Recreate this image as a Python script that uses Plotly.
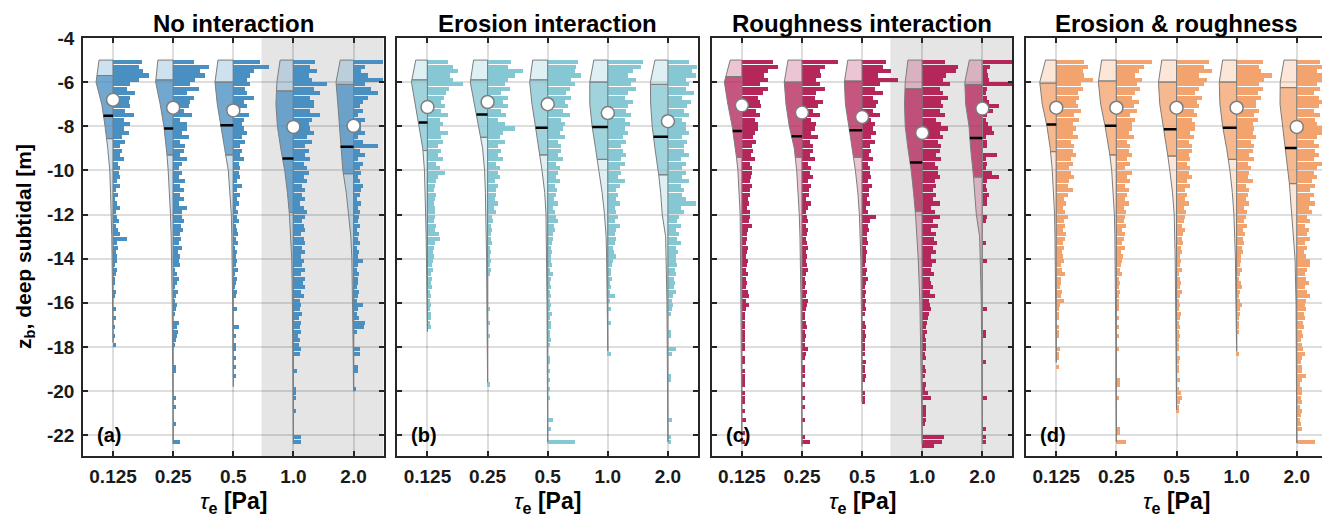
import numpy as np
import plotly.graph_objects as go

# ---------------- data ----------------
categories = ["0.125", "0.25", "0.5", "1.0", "2.0"]
panel_titles = ["No interaction", "Erosion interaction", "Roughness interaction", "Erosion & roughness"]
panel_labels = ["(a)", "(b)", "(c)", "(d)"]
y_ticks = [-22, -20, -18, -16, -14, -12, -10, -8, -6, -4]
shaded_from = [3, None, 3, None]          # index of first highlighted category (1.0 Pa)

# histogram bins: 0.2 m bins starting at -5 m going down
bin_top = -5.0
bin_width = 0.2
n_bins = 88

# violin half-width profile sampled at these depths
density_depths = [-5, -6, -7, -8, -9, -10, -11, -12, -13, -14, -16, -18, -20, -22]

# ---- (a) No interaction ----
hist_a = [
    [29,26,30,36,26, 17,14,22,17,16, 17,12,21,11,17, 11,16,9,12,7, 9,7,11,5,7, 6,7,4,7,3, 5,2,4,7,3,
     4,6,3,5,7, 14,4,5,3,4, 4,2,4,3,2, 2,0,3,2,0, 0,3,0,3,0, 2,0,2,0,3],
    [21,36,27,32,22, 17,26,14,21,17, 16,11,19,7,14, 14,9,16,7,12, 11,7,14,9,6, 9,6,12,7,11, 7,11,6,14,9,
     9,11,8,10,7, 8,6,9,5,7, 6,7,2,4,6, 4,2,5,3,2, 4,3,2,0,6, 4,5,4,3,2, 0,0,0,0,3, 3,0,0,0,0,
     0,3,0,3,0, 0,0,3,0,0, 0,7,0],
    [27,36,21,17,14, 17,12,14,21,11, 14,7,16,11,9, 11,14,9,12,7, 9,7,11,6,7, 6,7,4,9,4, 7,4,6,3,5,
     4,6,3,4,5, 3,5,2,4,3, 4,3,5,2,4, 3,2,4,3,0, 0,4,0,0,0, 6,0,3,0,3, 3,0,3,0,3, 0,3,0,0,0],
    [22,17,24,16,19, 34,21,27,17,21, 21,17,27,19,16, 17,21,14,19,12, 16,12,17,11,14, 16,11,14,9,12,
     9,12,7,11,14, 12,9,11,12,8, 11,12,9,12,8, 11,9,12,8,12, 10,12,8,11,7, 8,7,9,6,8, 7,8,5,7,6,
     8,7,0,0,0, 4,0,0,0,3, 3,3,0,0,3, 0,0,0,0,0, 8,8,0],
    [29,11,7,14,29, 11,17,24,14,9, 6,9,4,11,7, 7,11,4,9,24, 6,11,4,9,6, 7,4,6,9,7, 6,3,7,4,6,
     5,4,6,3,5, 4,6,3,5,4, 9,4,3,5,4, 4,3,5,4,3, 9,4,3,5,11, 10,3,0,0,0, 6,6,0,0,4, 4,0,0,0,2],
]
vio_a = [
    [14, 17, 11.3, 8, 5.3, 3.3, 2.5, 1.7, 1.3, 1, 0.6, 0, 0, 0],
    [15.3, 17.5, 13, 9.3, 6.7, 5, 3.7, 2.7, 2, 1.5, 1, 0.7, 0.5, 0.3],
    [15.3, 18.3, 16, 12.7, 8.7, 5, 3.3, 2, 1.5, 1, 0.7, 0.4, 0, 0],
    [13.3, 16.5, 17.5, 16, 12.7, 8.7, 6, 4, 2.7, 1.7, 1, 0.7, 0.5, 0.3],
    [13.3, 17.5, 15.7, 14, 13, 10.7, 7.3, 5, 2.7, 1.7, 0.7, 0.4, 0, 0],
]
zmin_a = [-17.8, -22.4, -19.8, -22.4, -20.0]
qup_a = [-5.7, -5.9, -6.0, -6.4, -6.1]
qlo_a = [-8.56, -9.3, -9.3, -11.9, -10.15]
median_a = [-7.52, -8.1, -7.95, -9.46, -8.93]
mean_a = [-6.8, -7.16, -7.28, -8.03, -7.98]

# ---- (b) Erosion interaction ----
hist_b = [
    [21,26,31,23,26, 36,22,19,17,14, 18,14,21,13,16, 13,21,14,16,11, 14,11,16,9,13, 18,11,9,8,7,
     9,8,7,8,8, 8,7,9,8,12, 13,8,7,6,7, 6,5,6,4,5, 4,5,3,4,3, 4,3,4,4,3, 4],
    [24,21,36,28,21, 18,23,14,21,16, 21,14,19,11,18, 28,16,13,18,11, 14,11,16,9,13, 11,13,8,11,9,
     9,8,11,7,9, 5,6,4,5,4, 4,5,3,4,3, 4,3,4,3,0, 0,0,0,0,0, 0,3,0,0,3, 0,0,3,0,0, 0,0,0,0,0,
     0,0,0,3,0],
    [31,29,28,34,24, 28,23,19,24,18, 21,16,23,14,18, 16,13,18,11,14, 14,11,16,9,13, 11,9,13,8,10,
     9,7,11,6,8, 9,11,7,8,6, 6,5,4,5,4, 4,5,3,6,4, 3,4,3,4,3, 4,3,5,3,4, 4,3,3,4,3, 0,0,3,3,0,
     3,0,3,0,3, 0,3,0,0,0, 0,6,0,4,0, 0,28,0],
    [36,34,26,21,29, 24,29,21,18,26, 21,19,24,18,23, 18,21,16,19,14, 16,19,14,18,13, 14,11,18,13,9,
     11,9,13,8,9, 11,8,13,9,8, 9,8,6,7,9, 6,5,4,4,5, 3,4,3,8,3, 0,4,0,0,4, 0,0,0,0,0, 0,4],
    [21,29,24,28,18, 21,18,26,14,23, 19,16,21,14,18, 18,21,14,19,16, 16,21,13,18,14, 18,14,21,13,16,
     14,18,28,13,16, 11,9,13,8,11, 9,13,8,10,8, 8,9,7,8,6, 7,6,8,5,4, 5,4,3,0,0, 0,3,3,0,0,
     8,4,0,0,0, 0,3,3,0,0, 0,0,0,0,0, 0,4,0,0,0, 3,3,0],
]
vio_b = [
    [11.7, 16, 12, 8, 4.7, 3, 2.3, 1.7, 1.3, 1, 0.6, 0, 0, 0],
    [14, 17.3, 13, 9, 5, 3, 2.2, 1.7, 1.3, 1, 0.7, 0.4, 0, 0],
    [15, 18, 15.7, 12.3, 9, 5.7, 3, 1.7, 1.3, 1, 0.7, 0.5, 0.4, 0.3],
    [14, 18, 18, 15.7, 12.3, 9, 5.7, 3.3, 1.7, 1.2, 0.7, 0, 0, 0],
    [13, 17.5, 17.3, 15.7, 13, 9.7, 7.3, 5.7, 2.3, 1.7, 1, 0.7, 0.5, 0.3],
]
zmin_b = [-17.3, -19.6, -22.3, -18.2, -22.3]
qup_b = [-5.9, -5.9, -5.9, -6.0, -6.1]
qlo_b = [-9.1, -8.5, -9.3, -9.5, -10.2]
median_b = [-7.83, -7.47, -8.07, -8.03, -8.48]
mean_b = [-7.13, -6.9, -7.0, -7.4, -7.77]

# ---- (c) Roughness interaction ----
hist_c = [
    [31,36,26,22,26, 18,26,21,16,18, 19,14,18,13,16, 16,13,11,14,10, 11,9,13,8,10, 10,9,8,10,8,
     8,6,7,5,8, 8,7,10,6,5, 5,4,6,5,4, 6,5,4,6,4, 5,4,6,7,4, 7,4,3,3,3, 3,3,3,3,3, 3,0,3,3,0,
     3,3,3,3,0, 3,3,3,0,3, 0,4,0,0,3, 0,3,0],
    [36,23,18,19,14, 18,23,14,13,21, 16,11,18,9,14, 13,9,16,8,11, 11,8,13,6,9, 8,11,6,9,7,
     7,4,9,6,4, 5,6,4,6,5, 4,5,6,4,5, 4,5,6,4,3, 4,3,5,4,6, 5,4,3,3,4, 5,3,4,3,3, 6,4,3,0,3,
     3,3,0,3,0, 0,3,0,3,0, 0,3,0,0,0, 3,8,0],
    [24,21,29,16,36, 18,13,21,11,16, 14,11,18,9,13, 11,14,9,13,8, 9,7,11,6,8, 8,9,6,10,7,
     7,5,8,4,6, 14,8,6,7,5, 5,6,4,5,4, 4,3,5,4,6, 4,3,4,3,4, 3,4,3,0,3, 4,3,4,3,3, 3,3,0,4,3,
     3,4,3,0,0, 3,3,3],
    [23,36,34,24,21, 28,18,21,26,19, 21,18,23,14,19, 26,18,21,16,19, 18,14,19,13,16, 16,18,13,14,11,
     14,11,18,9,13, 18,11,16,9,14, 12,15,11,14,9, 14,10,9,12,8, 9,11,8,13,7, 8,9,7,6,5, 4,5,3,4,4,
     4,3,4,0,3, 4,3,0,4,3, 6,9,0,4,4, 4,4,3,0,0, 22,20,12],
    [29,7,4,5,6, 29,4,3,4,6, 16,10,4,3,5, 9,11,3,4,4, 0,14,3,4,3, 9,16,4,3,4, 6,4,4,0,0,
     4,3,0,0,0, 0,3,0,0,0, 4,0,0,0,0, 0,0,0,0,0, 0,4,0,0,0, 0,3,3,0,0, 0,0,0,3,0, 0,0,0,0,0,
     0,4,0,0,0, 0,0,0,3,0, 3,3,0],
]
vio_c = [
    [11.7, 17.5, 14, 9.7, 6.3, 4, 2.7, 1.7, 1.5, 1.3, 1, 0.7, 0.5, 0.3],
    [14, 17.7, 16, 12.7, 7.7, 5.3, 3.7, 2.7, 2, 1.5, 1, 0.7, 0.5, 0.3],
    [14.3, 17.7, 16.7, 13.3, 10, 6.7, 4.3, 2.7, 1.7, 1.3, 0.8, 0.5, 0.3, 0],
    [14.3, 17, 17.7, 17, 14.3, 11, 8.7, 6.7, 5.3, 4, 2.3, 1.7, 1, 0.5],
    [13, 17.5, 16.7, 13.3, 11.7, 9.3, 7.7, 6, 2.7, 2, 1, 0.7, 0.5, 0.3],
]
zmin_c = [-22.4, -22.5, -20.5, -22.4, -22.4]
qup_c = [-5.75, -6.0, -5.95, -6.3, -6.1]
qlo_c = [-9.4, -9.4, -9.4, -11.85, -10.3]
median_c = [-8.21, -8.45, -8.18, -9.64, -8.53]
mean_c = [-7.05, -7.38, -7.58, -8.3, -7.2]

# ---- (d) Erosion & roughness ----
hist_d = [
    [28,32,27,28,37, 25,27,22,23,20, 22,25,18,23,17, 20,17,22,15,18, 17,20,15,17,13, 15,18,13,12,17,
     12,8,10,7,9, 12,8,9,7,10, 9,7,8,6,7, 8,5,6,9,5, 5,4,6,5,8, 4,3,3,3,0, 3,3,3,0,0, 4,3,3,0,3],
    [36,28,23,19,26, 21,24,19,16,23, 18,21,14,19,16, 16,13,18,11,14, 13,16,11,14,9, 16,11,14,9,13,
     11,9,13,8,10, 9,8,10,6,9, 8,6,9,5,7, 6,5,4,6,3, 4,3,4,3,3, 3,3,0,3,0, 3,0,3,0,0, 3,0,0,0,0,
     0,0,4,4,0, 0,3,0,0,0, 0,0,0,4,4, 0,10,0],
    [33,28,36,23,31, 28,23,19,26,21, 23,18,21,16,19, 19,14,18,13,16, 16,13,14,11,14, 13,16,11,14,9,
     11,9,13,8,10, 9,8,6,9,7, 6,7,5,6,4, 5,4,6,3,4, 5,4,6,4,3, 4,3,5,4,3, 4,3,4,3,3, 3,0,4,3,3,
     3,0,4,0,3, 5,6,4,3,3],
    [27,23,25,36,28, 23,27,22,25,20, 20,23,18,22,17, 18,17,20,15,18, 17,13,18,12,15, 13,12,17,10,13,
     12,10,13,8,11, 10,8,11,7,9, 7,8,6,7,5, 5,4,6,4,3, 5,6,4,3,4, 6,4,4,3,3, 3,3,0,0,0, 0,3],
    [23,28,20,27,25, 20,23,17,22,25, 22,17,23,18,20, 25,28,20,17,22, 18,22,17,25,20, 17,20,15,18,13,
     17,13,18,12,15, 10,13,8,12,10, 13,8,10,7,9, 13,13,10,8,9, 12,8,10,13,9, 8,9,7,8,6, 7,5,6,4,5,
     6,8,5,4,5, 5,9,5,3,5, 5,4,5,3,5, 4,3,4,5,0, 0,18,0],
]
vio_d = [
    [10.7, 16.5, 14, 9.3, 6, 4, 2.7, 1.7, 1.3, 1, 0.6, 0.3, 0, 0],
    [14.7, 18, 15.7, 11.3, 7.3, 4.7, 3, 2, 1.5, 1.2, 0.8, 0.5, 0.4, 0.3],
    [14.7, 18, 16.7, 13, 9.7, 6.7, 4, 2.3, 1.7, 1.3, 0.9, 0.6, 0.4, 0],
    [14, 17.3, 16.7, 14, 10, 6.7, 4.3, 2.7, 1.7, 1.2, 0.7, 0.3, 0, 0],
    [12.7, 16.5, 16.7, 14, 11.7, 8.3, 6.7, 5, 2.7, 1.7, 0.7, 0.5, 0.4, 0.3],
]
zmin_d = [-18.7, -22.3, -20.85, -18.2, -22.35]
qup_d = [-6.05, -5.95, -6.0, -6.0, -6.25]
qlo_d = [-9.15, -9.3, -9.35, -9.5, -10.6]
median_d = [-7.92, -7.98, -8.13, -8.07, -8.98]
mean_d = [-7.16, -7.16, -7.16, -7.16, -8.03]

panels = [
    dict(hist=hist_a, vio=vio_a, zmin=zmin_a, qup=qup_a, qlo=qlo_a, med=median_a, mean=mean_a, rgb=(74, 143, 193)),
    dict(hist=hist_b, vio=vio_b, zmin=zmin_b, qup=qup_b, qlo=qlo_b, med=median_b, mean=mean_b, rgb=(134, 199, 212)),
    dict(hist=hist_c, vio=vio_c, zmin=zmin_c, qup=qup_c, qlo=qlo_c, med=median_c, mean=mean_c, rgb=(181, 39, 91)),
    dict(hist=hist_d, vio=vio_d, zmin=zmin_d, qup=qup_d, qlo=qlo_d, med=median_d, mean=mean_d, rgb=(243, 164, 110)),
]

# ---------------- style ----------------
SCALE = 1 / 60.1            # profile / bar length units -> category units
Y_RANGE = [-22.94, -4]
X_RANGE = [0.5, 5.5]
FONT = "Liberation Sans, Arial, Helvetica, sans-serif"
AX_COL = "#262626"
GRID_COL = "rgba(0,0,0,0.13)"
OUTLINE = "#7d7d7d"
W_PLOT = 1244.0
PANEL_STEP = 314.4
PANEL_W = 300.6
PLOT_H = 418.0

fig = go.Figure()

bin_centers = [bin_top - bin_width * (i + 0.5) for i in range(n_bins)]


def width_at(d, prof_d, prof_w):
    return float(np.interp(-d, [-v for v in prof_d], prof_w))


def region_poly(pos, d0, d1, prof_d, prof_w):
    inner = [g for g in prof_d if d1 < g < d0]
    ds = [d0] + inner + [d1]
    xs = [pos] + [pos - width_at(d, prof_d, prof_w) * SCALE for d in ds] + [pos, pos]
    ys = [d0] + ds + [d1, d0]
    return xs, ys


for k, p in enumerate(panels):
    xa = "x" if k == 0 else f"x{k+1}"
    ya = "y" if k == 0 else f"y{k+1}"
    r, g, b = p["rgb"]
    bar_col = f"rgb({r},{g},{b})"
    dark = f"rgba({r},{g},{b},0.78)"
    light = f"rgba({r},{g},{b},0.27)"

    # histograms (one bar trace per panel)
    ys, xs, bases = [], [], []
    for ci in range(len(categories)):
        vals = (list(p["hist"][ci]) + [0] * n_bins)[:n_bins]
        pos = ci + 1
        for yc, v in zip(bin_centers, vals):
            if v > 0:
                ys.append(yc)
                xs.append(v * SCALE)
                bases.append(pos)
    fig.add_trace(go.Bar(orientation="h", x=xs, y=ys, base=bases, width=bin_width * 0.92,
                         marker=dict(color=bar_col, line=dict(width=0)),
                         xaxis=xa, yaxis=ya, hoverinfo="skip"))

    # half violins
    med_x, med_y = [], []
    for ci in range(len(categories)):
        pos = ci + 1
        zmin = p["zmin"][ci]
        prof_d = [d for d in density_depths if d > zmin] + [zmin]
        prof_w = list(p["vio"][ci][:len(prof_d) - 1]) + [0]
        bounds = [bin_top, p["qup"][ci], p["qlo"][ci], zmin]
        fills = [light, dark, light]
        for j in range(3):
            px, py = region_poly(pos, bounds[j], bounds[j + 1], prof_d, prof_w)
            fig.add_trace(go.Scatter(x=px, y=py, mode="lines", fill="toself", fillcolor=fills[j],
                                     line=dict(color=OUTLINE, width=1), xaxis=xa, yaxis=ya,
                                     hoverinfo="skip"))
        md = p["med"][ci]
        med_x += [pos - width_at(md, prof_d, prof_w) * SCALE, pos, None]
        med_y += [md, md, None]

    fig.add_trace(go.Scatter(x=med_x, y=med_y, mode="lines", line=dict(color="black", width=2.5),
                             xaxis=xa, yaxis=ya, hoverinfo="skip"))
    fig.add_trace(go.Scatter(x=list(range(1, len(categories) + 1)), y=p["mean"], mode="markers",
                             marker=dict(size=13, color="white", line=dict(color=OUTLINE, width=1.5)),
                             xaxis=xa, yaxis=ya, hoverinfo="skip"))

    # shaded background for highlighted categories
    if shaded_from[k] is not None:
        fig.add_shape(type="rect", xref=xa, yref=ya, x0=shaded_from[k] + 0.47, x1=X_RANGE[1],
                      y0=Y_RANGE[0], y1=Y_RANGE[1], fillcolor="#e5e5e5", line=dict(width=0),
                      layer="below")

    d0 = k * PANEL_STEP / W_PLOT
    d1 = min((k * PANEL_STEP + PANEL_W) / W_PLOT, 1.0)
    common = dict(showline=True, linecolor=AX_COL, linewidth=1.6, mirror="ticks",
                  ticks="inside", ticklen=5, tickwidth=1.6, tickcolor=AX_COL,
                  showgrid=True, gridcolor=GRID_COL, gridwidth=1.5, zeroline=False,
                  automargin=False,
                  tickfont=dict(family=FONT, size=19, color="#1a1a1a", weight="bold"))
    fig.update_layout(**{
        ("xaxis" if k == 0 else f"xaxis{k+1}"): dict(
            domain=[d0, d1], range=X_RANGE, anchor=ya,
            tickvals=list(range(1, len(categories) + 1)), ticktext=categories,
            ticklabelstandoff=2, **common),
        ("yaxis" if k == 0 else f"yaxis{k+1}"): dict(
            domain=[0, 1], range=Y_RANGE, anchor=xa,
            tickvals=y_ticks, ticktext=[str(v) for v in y_ticks],
            showticklabels=(k == 0), ticklabelstandoff=3, **common),
    })

    cx = (d0 + d1) / 2
    fig.add_annotation(text=f"<b>{panel_titles[k]}</b>", xref="paper", yref="paper",
                       x=cx, y=1 + 15 / PLOT_H, showarrow=False, xanchor="center", yanchor="middle",
                       font=dict(family=FONT, size=24, color="black"))
    fig.add_annotation(text="<i>τ</i><sub><b>e</b></sub><b> [Pa]</b>", xref="paper", yref="paper",
                       x=cx, y=-46 / PLOT_H, showarrow=False, xanchor="center", yanchor="middle",
                       font=dict(family=FONT, size=23, color="black"))
    fig.add_annotation(text=f"<b>{panel_labels[k]}</b>", xref=xa, yref=ya,
                       x=X_RANGE[0] + 0.2, y=y_ticks[0], showarrow=False, xanchor="left",
                       yanchor="middle", font=dict(family=FONT, size=20, color="black"))

fig.add_annotation(text="<b>z<sub>b</sub>, deep subtidal [m]</b>", xref="paper", yref="paper",
                   x=-58 / W_PLOT, y=0.5, textangle=-90, showarrow=False, xanchor="center",
                   yanchor="middle", font=dict(family=FONT, size=21, color="black"))

# the page adds an 8 px body margin, so the figure is 8 px smaller than the window
fig.update_layout(width=1322, height=514, margin=dict(l=75, r=3, t=30, b=66, autoexpand=False),
                  plot_bgcolor="white", paper_bgcolor="white", showlegend=False,
                  barmode="overlay", bargap=0)

fig.write_html("out.html")
